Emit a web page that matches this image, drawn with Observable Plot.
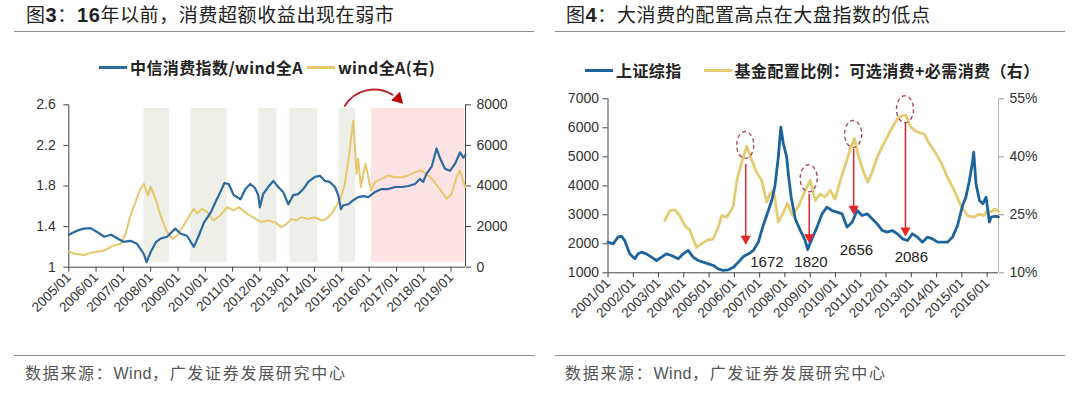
<!DOCTYPE html>
<html><head><meta charset="utf-8">
<script src="https://cdn.jsdelivr.net/npm/d3@7"></script>
<script src="https://cdn.jsdelivr.net/npm/@observablehq/plot@0.6"></script>
<style>
body{margin:0;background:#fff;width:1080px;height:396px;overflow:hidden;position:relative;font-family:"Noto Sans CJK SC",sans-serif;}
.abs{position:absolute;}
.title{font-size:19px;line-height:22px;color:#222;white-space:nowrap;letter-spacing:0.6px}
.title b{font-family:Arial,"Liberation Sans",sans-serif;font-weight:bold;font-size:20px}
.rule{height:0;border-top:1.5px solid #8c8c8c}
.legend{font-size:16px;line-height:20px;font-weight:bold;color:#222;white-space:nowrap;display:flex;align-items:center;letter-spacing:0.4px}
.sw{display:inline-block;width:28px;height:3px;margin-right:3px}
.foot{font-size:16px;line-height:20px;color:#555;letter-spacing:1.7px;white-space:nowrap}
.foot span{font-family:Arial,"Liberation Sans",sans-serif;letter-spacing:0.5px}
</style></head><body>
<div class="abs title" style="left:26px;top:3px">图<b>3</b>：<b>16</b>年以前，消费超额收益出现在弱市</div>
<div class="abs rule" style="left:14px;top:31px;width:520px"></div>
<div class="abs legend" style="left:99px;top:57px"><span class="sw" style="background:#2a6aa0"></span>中信消费指数/wind全A<span class="sw" style="background:#e8c66c;margin-left:4px"></span>wind全A(右)</div>
<div id="left" class="abs" style="left:0;top:80px"></div>
<div class="abs rule" style="left:14px;top:355px;width:521px"></div>
<div class="abs foot" style="left:25px;top:362px">数据来源：<span>Wind</span>，广发证券发展研究中心</div>

<div class="abs title" style="left:566px;top:3px">图<b>4</b>：大消费的配置高点在大盘指数的低点</div>
<div class="abs rule" style="left:555px;top:31px;width:510px"></div>
<div class="abs legend" style="left:585px;top:60px"><span class="sw" style="background:#1d639c"></span>上证综指<span class="sw" style="background:#e3cd72;margin-left:22px"></span>基金配置比例：可选消费+必需消费（右）</div>
<div id="right" class="abs" style="left:540px;top:80px"></div>
<div class="abs rule" style="left:555px;top:355px;width:510px"></div>
<div class="abs foot" style="left:565px;top:362px">数据来源：<span>Wind</span>，广发证券发展研究中心</div>

<script>
// ---------- Figure 3 data ----------
const ratioT = [2005.0,2005.3,2005.55,2005.8,2006.05,2006.3,2006.55,2006.8,2007.0,2007.26,2007.5,2007.75,2007.85,2008.0,2008.2,2008.35,2008.6,2008.9,2009.1,2009.33,2009.58,2009.76,2009.95,2010.2,2010.37,2010.55,2010.7,2010.86,2011.04,2011.29,2011.47,2011.65,2011.82,2011.94,2012.0,2012.12,2012.3,2012.49,2012.67,2012.85,2013.04,2013.22,2013.4,2013.59,2013.77,2014.01,2014.2,2014.38,2014.56,2014.75,2014.87,2014.97,2015.05,2015.24,2015.42,2015.6,2015.79,2015.97,2016.21,2016.46,2016.7,2016.95,2017.2,2017.44,2017.68,2017.86,2017.98,2018.1,2018.29,2018.47,2018.6,2018.78,2018.96,2019.15,2019.33,2019.45,2019.53];
const ratioV = [1.32,1.36,1.38,1.385,1.345,1.30,1.32,1.28,1.25,1.26,1.23,1.13,1.05,1.15,1.25,1.28,1.30,1.38,1.33,1.31,1.20,1.31,1.44,1.54,1.64,1.74,1.83,1.82,1.71,1.67,1.77,1.82,1.78,1.71,1.59,1.72,1.79,1.85,1.79,1.74,1.62,1.71,1.72,1.77,1.84,1.89,1.90,1.85,1.84,1.79,1.71,1.57,1.61,1.62,1.66,1.69,1.70,1.69,1.74,1.77,1.77,1.79,1.79,1.80,1.82,1.87,1.84,1.92,1.99,2.17,2.07,1.97,1.95,2.02,2.13,2.08,2.11];
const windT = [2005.0,2005.2,2005.55,2005.9,2006.3,2006.65,2006.9,2007.08,2007.26,2007.44,2007.6,2007.75,2007.9,2008.0,2008.2,2008.36,2008.6,2008.8,2008.97,2009.2,2009.46,2009.58,2009.7,2009.88,2010.07,2010.3,2010.55,2010.8,2011.04,2011.23,2011.53,2011.84,2012.06,2012.3,2012.55,2012.79,2012.97,2013.16,2013.34,2013.52,2013.77,2014.01,2014.26,2014.44,2014.62,2014.81,2014.97,2015.11,2015.24,2015.36,2015.42,2015.48,2015.54,2015.6,2015.7,2015.79,2015.87,2015.97,2016.07,2016.21,2016.46,2016.7,2016.95,2017.2,2017.44,2017.68,2017.92,2018.17,2018.35,2018.53,2018.72,2018.84,2019.02,2019.2,2019.33,2019.45,2019.53];
const windV = [780,660,600,735,820,1070,1150,1640,2550,3200,3780,4110,3540,3970,3280,2550,1725,1400,1560,2050,2630,2880,2630,2880,2710,2300,2550,2960,2800,2960,2630,2380,2220,2300,2220,1970,2130,2380,2300,2460,2380,2460,2300,2380,2630,3040,3450,4100,5250,6570,7220,5910,4600,5340,3940,4600,5090,4430,3780,4190,4350,4520,4430,4430,4520,4680,4760,4520,4270,3940,3610,3370,3610,4430,4760,4200,3950];
const grayBandStart = [2007.75,2009.46,2011.96,2013.10,2014.89];
const grayBandEnd   = [2008.70,2010.80,2012.63,2014.12,2015.50];
const pinkBandStart = [2016.09];
const pinkBandEnd   = [2019.51];
const leftYTicks  = [1,1.4,1.8,2.2,2.6];
const leftY2Ticks = [0,2000,4000,6000,8000];
const leftXTickYears = [2005,2006,2007,2008,2009,2010,2011,2012,2013,2014,2015,2016,2017,2018,2019];
const arcFrom = [2015.11, 2.59];
const arcTo   = [2016.85, 2.70];
const arcHead = [2017.06, 2.66];

// ---------- Figure 4 data ----------
const sseT = [2001.0,2001.2,2001.4,2001.53,2001.66,2001.86,2002.06,2002.19,2002.32,2002.52,2002.72,2002.92,2003.12,2003.31,2003.51,2003.78,2003.98,2004.17,2004.37,2004.57,2004.77,2004.97,2005.17,2005.36,2005.56,2005.76,2005.96,2006.16,2006.36,2006.56,2006.75,2006.95,2007.12,2007.28,2007.48,2007.61,2007.74,2007.84,2007.94,2008.07,2008.15,2008.25,2008.41,2008.61,2008.8,2008.9,2009.07,2009.27,2009.47,2009.66,2009.86,2010.06,2010.26,2010.46,2010.66,2010.86,2011.05,2011.25,2011.45,2011.65,2011.85,2012.05,2012.25,2012.45,2012.65,2012.85,2013.04,2013.24,2013.44,2013.64,2013.84,2014.04,2014.23,2014.43,2014.63,2014.83,2015.03,2015.16,2015.3,2015.43,2015.47,2015.56,2015.7,2015.83,2015.96,2016.09,2016.16,2016.3,2016.45];
const sseV = [2057,2000,2230,2264,2115,1655,1483,1655,1713,1655,1540,1425,1540,1655,1598,1483,1655,1770,1540,1425,1368,1310,1253,1138,1080,1103,1195,1368,1563,1655,1770,2057,2575,2977,3494,4011,4989,6023,5450,5000,4300,3600,2862,2460,2115,1800,2172,2575,3034,3264,3149,3092,3034,2575,2747,3149,2977,3034,2862,2690,2460,2402,2460,2345,2172,2115,2345,2230,2057,2230,2172,2057,2057,2057,2230,2632,3322,3609,4184,4874,5160,4069,3494,3379,3609,2747,2920,2950,2930];
const fundT = [2003.25,2003.45,2003.65,2003.84,2004.04,2004.24,2004.5,2004.7,2004.9,2005.17,2005.36,2005.5,2005.7,2005.83,2005.96,2006.1,2006.29,2006.49,2006.69,2006.88,2007.08,2007.28,2007.41,2007.55,2007.74,2007.94,2008.1,2008.3,2008.55,2008.8,2009.0,2009.2,2009.4,2009.59,2009.79,2009.99,2010.19,2010.39,2010.59,2010.75,2010.92,2011.12,2011.28,2011.45,2011.65,2011.91,2012.18,2012.45,2012.65,2012.78,2012.98,2013.24,2013.51,2013.71,2013.9,2014.17,2014.43,2014.7,2014.96,2015.22,2015.49,2015.69,2015.88,2016.01,2016.16,2016.3,2016.45];
const fundV = [23.5,26.1,26.3,24.8,22.2,21.0,16.6,17.5,18.4,18.8,21.8,24.8,24.4,25.7,27.4,33.9,38.6,42.7,39.1,36.0,33.9,28.3,30.4,31.5,23.1,25.5,28.0,24.8,27.4,31.3,33.9,28.7,30.4,29.6,31.3,29.1,33.9,37.8,42.1,44.7,39.9,36.0,33.4,36.0,39.9,43.4,46.8,49.8,50.7,50.7,47.7,46.4,45.9,43.4,41.6,38.6,34.7,31.3,27.4,24.8,24.4,25.2,24.8,26.1,25.7,26.5,25.8];
const rightYTicks  = [1000,2000,3000,4000,5000,6000,7000];
const rightY2Ticks = [10,25,40,55];
const rightXTickYears = [2001,2002,2003,2004,2005,2006,2007,2008,2009,2010,2011,2012,2013,2014,2015,2016];
// annotations: arrow x, arrow start (index units), arrow tip (index units)
const annoT     = [2006.45, 2008.96, 2010.72, 2012.77];
const annoTop   = [4759, 3724, 5276, 6193];
const annoTip   = [2000, 2057, 3034, 2287];
const ellipseV  = [5390, 4241, 5769, 6621];
const annoLabel = ["1672", "1820", "2656", "2086"];
const labelT    = [2007.29, 2009.03, 2010.83, 2013.0];
const labelV    = [1365, 1365, 1793, 1538];

// ---------- helpers ----------
const yr = t => { const y = Math.floor(t); const a = Date.UTC(y,0,1), b = Date.UTC(y+1,0,1); return new Date(a + (t - y) * (b - a)); };
const fmtYM = d3.utcFormat("%Y/%m");
const axisStyle = {fontFamily: "Arial, 'Liberation Sans', sans-serif", fontSize: "14px", color: "#333", background: "transparent", overflow: "visible"};

// ---------- Figure 3 ----------
const windToLeft = w => 1 + w / 5000;
const ratioData = ratioT.map((t, i) => ({date: yr(t), v: ratioV[i]}));
const windData = windT.map((t, i) => ({date: yr(t), v: windToLeft(windV[i])}));
const grayBands = grayBandStart.map((s, i) => ({x1: yr(s), x2: yr(grayBandEnd[i])}));
const pinkBands = pinkBandStart.map((s, i) => ({x1: yr(s), x2: yr(pinkBandEnd[i])}));
const lx0 = yr(2005.0), lx1 = yr(2019.53);

const leftPlot = Plot.plot({
  width: 540, height: 250,
  marginLeft: 68.3, marginRight: 75, marginTop: 24.3, marginBottom: 63.3,
  x: {type: "utc", domain: [lx0, lx1], axis: null},
  y: {domain: [1, 2.6], axis: null},
  style: axisStyle,
  marks: [
    Plot.rect(grayBands, {x1: "x1", x2: "x2", y1: 1.045, y2: 2.565, fill: "#efefea"}),
    Plot.rect(pinkBands, {x1: "x1", x2: "x2", y1: 1.045, y2: 2.565, fill: "#fde3e3"}),
    Plot.ruleY([1], {stroke: "#444"}),
    Plot.ruleX([lx0], {stroke: "#444"}),
    Plot.ruleX([lx1], {stroke: "#444"}),
    Plot.axisX(leftXTickYears.map(y => yr(y)), {tickFormat: fmtYM, tickRotate: -45, fontSize: 13.5, tickSize: 5, tickPadding: 3, label: null, stroke: "#444"}),
    Plot.axisY(leftYTicks, {anchor: "left", tickSize: 5, tickPadding: 8, label: null, tickFormat: d => String(d), stroke: "#444"}),
    Plot.axisY(leftY2Ticks.map(windToLeft), {anchor: "right", tickSize: 5, tickPadding: 6, label: null, tickFormat: d => String(Math.round((d - 1) * 5000)), stroke: "#444"}),
    Plot.line(windData, {x: "date", y: "v", stroke: "#e8c66c", strokeWidth: 2}),
    Plot.line(ratioData, {x: "date", y: "v", stroke: "#2a6aa0", strokeWidth: 2.2}),
    Plot.arrow([{a: 0}], {x1: () => yr(arcFrom[0]), y1: () => arcFrom[1], x2: () => yr(arcTo[0]), y2: () => arcTo[1], bend: 45, headLength: 0, stroke: "#b8262c", strokeWidth: 2}),
    Plot.dot([{a: 0}], {x: () => yr(arcHead[0]), y: () => arcHead[1], symbol: "triangle", r: 4.6, fill: "#c00000", rotate: 15})
  ]
});
document.getElementById("left").append(leftPlot);

// ---------- Figure 4 ----------
const pctToLeft = p => 1000 + (p - 10) * 6000 / 45;
const sseData = sseT.map((t, i) => ({date: yr(t), v: sseV[i]}));
const fundData = fundT.map((t, i) => ({date: yr(t), v: pctToLeft(fundV[i])}));
const annos = annoT.map((t, i) => ({date: yr(t), top: annoTop[i], tip: annoTip[i], ev: ellipseV[i]}));
const labels = annoLabel.map((s, i) => ({date: yr(labelT[i]), v: labelV[i], text: s}));
const rx0 = yr(2001.0), rx1 = yr(2016.45);

const rightPlot = Plot.plot({
  width: 540, height: 250,
  marginLeft: 67.5, marginRight: 82, marginTop: 18.3, marginBottom: 57.7,
  x: {type: "utc", domain: [rx0, rx1], axis: null},
  y: {domain: [1000, 7000], axis: null},
  style: axisStyle,
  marks: [
    Plot.ruleY([1000], {stroke: "#444"}),
    Plot.ruleX([rx0], {stroke: "#444"}),
    Plot.ruleX([rx1], {stroke: "#bbb"}),
    Plot.axisX(rightXTickYears.map(y => yr(y)), {tickFormat: fmtYM, tickRotate: -45, fontSize: 13.5, tickSize: 5, tickPadding: 3, label: null, stroke: "#444"}),
    Plot.axisY(rightYTicks, {anchor: "left", tickSize: 5, tickPadding: 4, label: null, tickFormat: d => String(d), stroke: "#444"}),
    Plot.axisY(rightY2Ticks.map(pctToLeft), {anchor: "right", tickSize: 5, tickPadding: 6, label: null, tickFormat: d => Math.round(10 + (d - 1000) * 45 / 6000) + "%", stroke: "#999"}),
    Plot.line(fundData, {x: "date", y: "v", stroke: "#e3cd72", strokeWidth: 2.8}),
    Plot.line(sseData, {x: "date", y: "v", stroke: "#1d639c", strokeWidth: 2.8}),
    Plot.link(annos, {x1: "date", x2: "date", y1: "top", y2: "tip", stroke: "#e3262a", strokeWidth: 1.5}),
    Plot.dot(annos, {x: "date", y: "tip", symbol: "triangle", rotate: 180, r: 3.8, fill: "#e3262a", dy: -5}),
    (index, scales) => {
      const g = d3.create("svg:g").attr("fill", "none").attr("stroke", "#b04a55").attr("stroke-width", 1.4).attr("stroke-dasharray", "4,3");
      annos.forEach(a => g.append("ellipse").attr("cx", scales.x(a.date)).attr("cy", scales.y(a.ev)).attr("rx", 8.5).attr("ry", 13.5));
      return g.node();
    },
    Plot.text(labels, {x: "date", y: "v", text: "text", fontSize: 15, fill: "#222"})
  ]
});
document.getElementById("right").append(rightPlot);
</script>
</body></html>
